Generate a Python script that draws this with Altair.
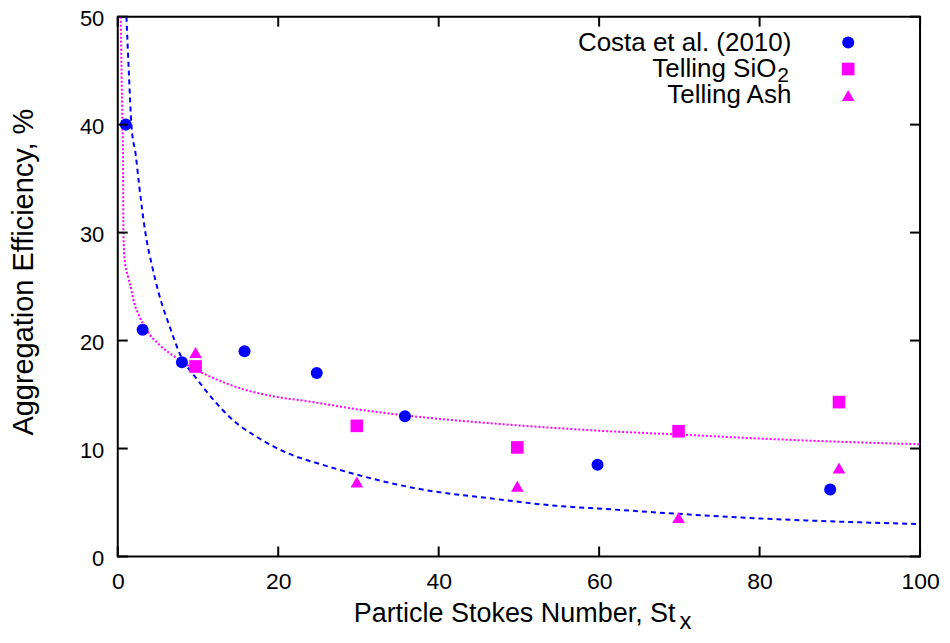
import altair as alt
import pandas as pd

# ---- data ----
costa_x = [1.0, 3.1, 8.0, 15.8, 24.8, 35.8, 59.8, 88.8]
costa_y = [40.0, 21.0, 18.0, 19.0, 17.0, 13.0, 8.5, 6.2]

sio2_x = [9.7, 29.8, 49.8, 69.9, 89.9]
sio2_y = [17.6, 12.1, 10.1, 11.6, 14.3]

ash_x = [9.7, 29.8, 49.8, 69.9, 89.9]
ash_y = [18.9, 6.9, 6.5, 3.6, 8.2]

# fitted curves
fit_costa_x = [1.08, 1.4, 1.7, 2.24, 2.65, 3.44, 4.31, 5.14, 6.47, 7.9, 9.8, 12.3, 14.1,
               17.5, 21.4, 25.5, 29.7, 34.0, 38.0, 46.3, 54.6, 60.8, 69.9, 80.7, 91.0, 100.0]
fit_costa_y = [50.0, 44.5, 40.0, 37.2, 34.5, 30.0, 26.8, 24.3, 21.3, 18.5, 16.5, 14.2, 12.8,
               11.0, 9.5, 8.5, 7.6, 6.8, 6.2, 5.4, 4.7, 4.4, 3.95, 3.5, 3.2, 3.0]

fit_telling_x = [0.37, 0.58, 0.66, 0.7, 0.87, 1.28, 1.7, 1.91, 2.6, 3.57, 5.2, 7.3, 9.2, 11.4,
                 15.6, 19.7, 23.9, 29.7, 38.0, 46.3, 54.6, 61.2, 69.9, 80.7, 91.0, 100.0]
fit_telling_y = [50.0, 40.0, 37.0, 30.0, 27.4, 25.9, 24.7, 23.9, 22.4, 21.0, 19.6, 18.4, 17.5, 16.7,
                 15.5, 14.8, 14.35, 13.65, 12.9, 12.35, 11.9, 11.6, 11.3, 10.9, 10.6, 10.4]

x_ticks = [0, 20, 40, 60, 80, 100]
y_ticks = [0, 10, 20, 30, 40, 50]

legend_names = ["Costa et al. (2010)", "Telling SiO", "Telling Ash"]
legend_sub = "2"
x_title = "Particle Stokes Number, St"
x_title_sub = "x"
y_title = "Aggregation Efficiency, %"

W, H = 804, 541
FONT = "Liberation Sans"
BLUE = "#0000ff"
MAG = "#ff00ff"

xs = alt.Scale(domain=[0, 100], nice=False, zero=False)
ys = alt.Scale(domain=[0, 50], nice=False, zero=False)

xax = alt.Axis(values=x_ticks, tickSize=0, domain=False, grid=False, labelFontSize=23,
               labelFont=FONT, labelColor="black", labelPadding=14, labelFlush=False,
               labelOverlap=False, title=None, format="d")
yax = alt.Axis(values=y_ticks, tickSize=0, domain=False, grid=False, labelFontSize=22,
               labelFont=FONT, labelColor="black", labelPadding=14, labelFlush=False,
               labelOverlap=False, labelOffset=2, title=None, format="d")

fc = pd.DataFrame({"x": fit_costa_x, "y": fit_costa_y})
ft = pd.DataFrame({"x": fit_telling_x, "y": fit_telling_y})

line_costa = alt.Chart(fc).mark_line(color=BLUE, strokeWidth=2, strokeDash=[5, 4],
                                     interpolate="monotone", clip=True).encode(
    x=alt.X("x:Q", scale=xs, axis=xax), y=alt.Y("y:Q", scale=ys, axis=yax))
line_tell = alt.Chart(ft).mark_line(color=MAG, strokeWidth=2, strokeDash=[2, 2],
                                    interpolate="monotone", clip=True).encode(
    x=alt.X("x:Q", scale=xs), y=alt.Y("y:Q", scale=ys))

pc = alt.Chart(pd.DataFrame({"x": costa_x, "y": costa_y})).mark_point(
    shape="circle", filled=True, color=BLUE, size=145, opacity=1).encode(
    x=alt.X("x:Q", scale=xs), y=alt.Y("y:Q", scale=ys))
ps = alt.Chart(pd.DataFrame({"x": sio2_x, "y": sio2_y})).mark_point(
    shape="square", filled=True, color=MAG, size=160, opacity=1).encode(
    x=alt.X("x:Q", scale=xs), y=alt.Y("y:Q", scale=ys))
pa = alt.Chart(pd.DataFrame({"x": ash_x, "y": ash_y})).mark_point(
    shape="triangle-up", filled=True, color=MAG, size=160, opacity=1).encode(
    x=alt.X("x:Q", scale=xs), y=alt.Y("y:Q", scale=ys))

# inward ticks on all four sides
xt = pd.DataFrame({"t": x_ticks})
yt = pd.DataFrame({"t": y_ticks})
tick_b = alt.Chart(xt).mark_rule(color="black", strokeWidth=2).encode(
    x=alt.X("t:Q", scale=xs), y=alt.value(H), y2=alt.value(H - 10))
tick_t = alt.Chart(xt).mark_rule(color="black", strokeWidth=2).encode(
    x=alt.X("t:Q", scale=xs), y=alt.value(0), y2=alt.value(10))
tick_l = alt.Chart(yt).mark_rule(color="black", strokeWidth=2).encode(
    y=alt.Y("t:Q", scale=ys), x=alt.value(0), x2=alt.value(10))
tick_r = alt.Chart(yt).mark_rule(color="black", strokeWidth=2).encode(
    y=alt.Y("t:Q", scale=ys), x=alt.value(W), x2=alt.value(W - 10))

# legend (gnuplot style: text then symbol)
LX = 675
rows = [26, 52.5, 79]
leg_text = []
for name, yy in zip(legend_names, rows):
    leg_text.append(alt.Chart(pd.DataFrame({"t": [name]})).mark_text(
        align="right", baseline="middle", font=FONT, fontSize=26, color="black").encode(
        text="t:N", x=alt.value(LX if name != "Telling SiO" else LX - 15), y=alt.value(yy)))
leg_sub = alt.Chart(pd.DataFrame({"t": [legend_sub]})).mark_text(
    align="left", baseline="middle", font=FONT, fontSize=21, color="black").encode(
    text="t:N", x=alt.value(LX - 14), y=alt.value(rows[1] + 7))
SX = 732
leg_c = alt.Chart(pd.DataFrame({"n": [legend_names[0]]})).mark_point(
    shape="circle", filled=True, color=BLUE, size=145, opacity=1).encode(
    x=alt.value(SX), y=alt.value(rows[0]))
leg_s = alt.Chart(pd.DataFrame({"n": [legend_names[1]]})).mark_point(
    shape="square", filled=True, color=MAG, size=160, opacity=1).encode(
    x=alt.value(SX), y=alt.value(rows[1]))
leg_a = alt.Chart(pd.DataFrame({"n": [legend_names[2]]})).mark_point(
    shape="triangle-up", filled=True, color=MAG, size=160, opacity=1).encode(
    x=alt.value(SX), y=alt.value(rows[2]))

# axis titles
xt_main = alt.Chart(pd.DataFrame({"t": [x_title]})).mark_text(
    align="right", baseline="alphabetic", font=FONT, fontSize=27, color="black").encode(
    text="t:N", x=alt.value(559), y=alt.value(607))
xt_sub = alt.Chart(pd.DataFrame({"t": [x_title_sub]})).mark_text(
    align="left", baseline="alphabetic", font=FONT, fontSize=24, color="black").encode(
    text="t:N", x=alt.value(563), y=alt.value(614))
yt_main = alt.Chart(pd.DataFrame({"t": [y_title]})).mark_text(
    align="center", baseline="alphabetic", font=FONT, fontSize=29, color="black", angle=270).encode(
    text="t:N", x=alt.value(-85), y=alt.value(256))

chart = alt.layer(
    line_costa, line_tell, pc, ps, pa,
    tick_b, tick_t, tick_l, tick_r,
    *leg_text, leg_sub, leg_c, leg_s, leg_a,
    xt_main, xt_sub, yt_main,
).properties(
    width=W, height=H,
    autosize=alt.AutoSizeParams(type="none"),
    padding={"left": 110, "top": 8, "right": 22, "bottom": 78},
    background="white",
).configure_view(stroke="black", strokeWidth=2)

chart.save("out.html", embed_options={"renderer": "svg", "actions": False})
